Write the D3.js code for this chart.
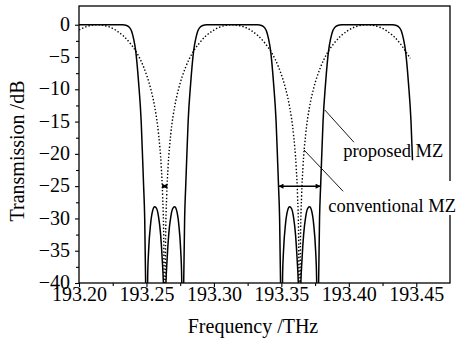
<!DOCTYPE html>
<html>
<head>
<meta charset="utf-8">
<script src="https://cdn.jsdelivr.net/npm/d3@7"></script>
<style>
  body { margin: 0; background: #fff; }
  svg text { font-family: 'Liberation Serif', 'Times New Roman', Times, 'DejaVu Serif', serif; fill: #000; }
</style>
</head>
<body>
<div id="chart"></div>
<script>
// proposed MZ (solid)
const proposedFreq = [
  193.2000, 193.2135, 193.2323, 193.2353, 193.2375, 193.2390, 193.2405, 193.2420, 193.2442, 193.2461,
  193.2472, 193.2479, 193.2487, 193.2494, 193.2501, 193.2509, 193.2516, 193.2531, 193.2546, 193.2561,
  193.2576, 193.2590, 193.2605, 193.2616, 193.2628, 193.2635, 193.2642, 193.2654, 193.2665, 193.2680,
  193.2694, 193.2709, 193.2724, 193.2739, 193.2754, 193.2761, 193.2769, 193.2776, 193.2783, 193.2791,
  193.2798, 193.2809, 193.2828, 193.2850, 193.2865, 193.2880, 193.2895, 193.2917, 193.2947, 193.3135,
  193.3323, 193.3353, 193.3375, 193.3390, 193.3405, 193.3420, 193.3442, 193.3461, 193.3472, 193.3479,
  193.3487, 193.3494, 193.3501, 193.3509, 193.3516, 193.3531, 193.3546, 193.3561, 193.3576, 193.3590,
  193.3605, 193.3616, 193.3628, 193.3635, 193.3642, 193.3654, 193.3665, 193.3680, 193.3694, 193.3709,
  193.3724, 193.3739, 193.3754, 193.3761, 193.3769, 193.3776, 193.3783, 193.3791, 193.3798, 193.3809,
  193.3828, 193.3850, 193.3865, 193.3880, 193.3895, 193.3917, 193.3947, 193.4135, 193.4323, 193.4353,
  193.4375, 193.4390, 193.4405, 193.4420, 193.4442, 193.4461, 193.4472
];
const proposedDb = [
  0, 0, 0, -0.12, -0.45, -1.0, -2.2, -4.0, -9, -15,
  -21, -25, -30, -40, -60, -39, -35, -30.8, -28.8, -28.2,
  -28.5, -29.8, -32.5, -36, -42, -60, -42, -36, -32.5, -29.8,
  -28.5, -28.2, -28.8, -30.8, -35, -39, -60, -40, -30, -25,
  -21, -15, -9, -4.0, -2.2, -1.0, -0.45, -0.12, 0, 0,
  0, -0.12, -0.45, -1.0, -2.2, -4.0, -9, -15, -21, -25,
  -30, -40, -60, -39, -35, -30.8, -28.8, -28.2, -28.5, -29.8,
  -32.5, -36, -42, -60, -42, -36, -32.5, -29.8, -28.5, -28.2,
  -28.8, -30.8, -35, -39, -60, -40, -30, -25, -21, -15,
  -9, -4.0, -2.2, -1.0, -0.45, -0.12, 0, 0, 0, -0.12,
  -0.45, -1.0, -2.2, -4.0, -9, -15, -21
];

// conventional MZ (dotted)
const conventionalFreq = [
  193.2000, 193.2050, 193.2100, 193.2135, 193.2180, 193.2230, 193.2280, 193.2330, 193.2380, 193.2430,
  193.2480, 193.2530, 193.2560, 193.2590, 193.2610, 193.2620, 193.2628, 193.2635, 193.2642, 193.2650,
  193.2660, 193.2680, 193.2710, 193.2740, 193.2790, 193.2840, 193.2890, 193.2940, 193.2990, 193.3040,
  193.3090, 193.3135, 193.3180, 193.3230, 193.3280, 193.3330, 193.3380, 193.3430, 193.3480, 193.3530,
  193.3560, 193.3590, 193.3610, 193.3620, 193.3628, 193.3635, 193.3642, 193.3650, 193.3660, 193.3680,
  193.3710, 193.3740, 193.3790, 193.3840, 193.3890, 193.3940, 193.3990, 193.4040, 193.4090, 193.4135,
  193.4180, 193.4230, 193.4280, 193.4330, 193.4380, 193.4430, 193.4456
];
const conventionalDb = [
  -0.8, -0.33, -0.05, 0, -0.09, -0.39, -0.95, -1.75, -2.9, -4.4,
  -6.6, -9.8, -12.6, -17.0, -22.1, -26.5, -33, -60, -33, -26.5,
  -22.1, -17.0, -12.6, -9.8, -6.6, -4.4, -2.9, -1.75, -0.95, -0.39,
  -0.09, 0, -0.09, -0.39, -0.95, -1.75, -2.9, -4.4, -6.6, -9.8,
  -12.6, -17.0, -22.1, -26.5, -33, -60, -33, -26.5, -22.1, -17.0,
  -12.6, -9.8, -6.6, -4.4, -2.9, -1.75, -0.95, -0.39, -0.09, 0,
  -0.09, -0.39, -0.95, -1.75, -2.9, -4.4, -5.2
];

const xTicks = [193.20, 193.25, 193.30, 193.35, 193.40, 193.45];
const xMinor = [193.225, 193.275, 193.325, 193.375, 193.425];
const yTicks = [0, -5, -10, -15, -20, -25, -30, -35, -40];
const yMinor = [-2.5, -7.5, -12.5, -17.5, -22.5, -27.5, -32.5, -37.5];

// width arrows at -25 dB: [from, to, dB]
const widthArrows = [
  [193.2617, 193.2653, -25],
  [193.3479, 193.3791, -25]
];
// label pointers: [f0, db0, f1, db1]
const pointers = [
  [193.3822, -13.2, 193.4038, -18.2],
  [193.3668, -19.4, 193.3958, -25.8]
];

const serif = "'Liberation Serif', 'Times New Roman', Times, 'DejaVu Serif', serif";

const W = 456, H = 339;
const margin = { top: 6, right: 6, bottom: 56, left: 79 };
const w = W - margin.left - margin.right, h = H - margin.top - margin.bottom;

const svg = d3.select('#chart').append('svg')
  .attr('width', W).attr('height', H);

const g = svg.append('g').attr('transform', `translate(${margin.left},${margin.top})`);

const x = d3.scaleLinear().domain([193.20, 193.475]).range([0, w]);
const y = d3.scaleLinear().domain([-40, 2.9]).range([h, 0]);

g.append('clipPath').attr('id', 'clip')
  .append('rect').attr('width', w).attr('height', h);

// curves
const line = d3.line()
  .x(d => x(d[0])).y(d => y(d[1]))
  .curve(d3.curveMonotoneX);

const proposed = proposedFreq.map((f, i) => [f, proposedDb[i]]);
const conventional = conventionalFreq.map((f, i) => [f, conventionalDb[i]]);

const plot = g.append('g').attr('clip-path', 'url(#clip)');

plot.append('path').datum(conventional)
  .attr('d', line)
  .attr('fill', 'none')
  .attr('stroke', '#000')
  .attr('stroke-width', 1.4)
  .attr('stroke-dasharray', '1.4,2');

plot.append('path').datum(proposed)
  .attr('d', line)
  .attr('fill', 'none')
  .attr('stroke', '#000')
  .attr('stroke-width', 1.5);

// arrow markers
const defs = svg.append('defs');
defs.append('marker').attr('id', 'arr')
  .attr('viewBox', '0 0 10 10').attr('refX', 10).attr('refY', 5)
  .attr('markerWidth', 6).attr('markerHeight', 5)
  .attr('markerUnits', 'userSpaceOnUse')
  .attr('orient', 'auto-start-reverse')
  .append('path').attr('d', 'M0,0L10,5L0,10z').attr('fill', '#000');

widthArrows.forEach(a => {
  g.append('line')
    .attr('x1', x(a[0])).attr('x2', x(a[1]))
    .attr('y1', y(a[2])).attr('y2', y(a[2]))
    .attr('stroke', '#000').attr('stroke-width', 1.5)
    .attr('marker-start', 'url(#arr)').attr('marker-end', 'url(#arr)');
});

pointers.forEach(p => {
  g.append('line')
    .attr('x1', x(p[0])).attr('y1', y(p[1]))
    .attr('x2', x(p[2])).attr('y2', y(p[3]))
    .attr('stroke', '#000').attr('stroke-width', 0.9);
});

// axes
const xAxis = g.append('g').attr('transform', `translate(0,${h})`)
  .call(d3.axisBottom(x).tickValues(xTicks).tickFormat(d3.format('.2f')).tickSize(4).tickSizeOuter(0));
g.append('g').attr('transform', `translate(0,${h})`)
  .call(d3.axisBottom(x).tickValues(xMinor).tickFormat('').tickSize(3).tickSizeOuter(0));
const yAxis = g.append('g')
  .call(d3.axisLeft(y).tickValues(yTicks).tickSize(4).tickPadding(5).tickSizeOuter(0));
g.append('g')
  .call(d3.axisLeft(y).tickValues(yMinor).tickFormat('').tickSize(3).tickSizeOuter(0));

g.selectAll('.domain').remove();
g.selectAll('.tick line').attr('stroke', '#000').attr('stroke-width', 1.1);
g.selectAll('g').attr('font-family', serif);
g.selectAll('.tick text')
  .attr('font-family', serif)
  .attr('font-size', 20).attr('fill', '#000');
xAxis.selectAll('.tick text').attr('y', 4);
yAxis.selectAll('.tick text').attr('dy', '0.28em');

// frame
g.append('rect')
  .attr('width', w).attr('height', h)
  .attr('fill', 'none').attr('stroke', '#000').attr('stroke-width', 1.3);

// labels
g.append('text')
  .attr('x', x(193.3958)).attr('y', y(-20.5))
  .attr('font-family', serif)
  .attr('font-size', 18.5)
  .text('proposed MZ');

// white patch where the label runs over the right frame
g.append('rect')
  .attr('x', x(193.44)).attr('y', y(-24.2))
  .attr('width', W - margin.left - x(193.44)).attr('height', 34)
  .attr('fill', '#fff');
g.append('text')
  .attr('x', x(193.3847)).attr('y', y(-29.0))
  .attr('font-family', serif)
  .attr('font-size', 18.5)
  .text('conventional MZ');

svg.append('text')
  .attr('x', 253).attr('y', 333)
  .attr('text-anchor', 'middle')
  .attr('font-family', serif)
  .attr('font-size', 20)
  .text('Frequency /THz');

svg.append('text')
  .attr('transform', 'translate(24,151) rotate(-90)')
  .attr('text-anchor', 'middle')
  .attr('font-family', serif)
  .attr('font-size', 20)
  .text('Transmission /dB');
</script>
</body>
</html>
